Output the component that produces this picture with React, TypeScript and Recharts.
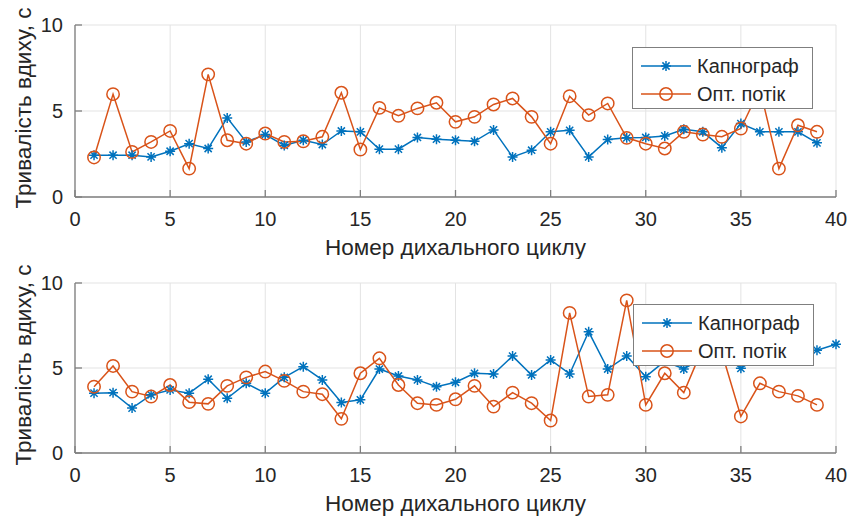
import React from 'react';
import { LineChart, Line, XAxis, YAxis, CartesianGrid, Legend } from 'recharts';

// ---- data ----
const xTicks = [0, 5, 10, 15, 20, 25, 30, 35, 40];
const yTicks = [0, 5, 10];
const seriesNames = { kap: 'Капнограф', opt: 'Опт. потік' };
const xLabelText = 'Номер дихального циклу';
const yLabelText = 'Тривалість вдиху, с';

const kapTop = [2.43, 2.43, 2.43, 2.33, 2.66, 3.1, 2.82, 4.6, 3.2, 3.63, 3.0, 3.3, 3.05, 3.84, 3.79, 2.78, 2.78, 3.46, 3.36, 3.3,
  3.24, 3.9, 2.33, 2.72, 3.79, 3.88, 2.33, 3.34, 3.44, 3.46, 3.55, 3.94, 3.79, 2.87, 4.27, 3.79, 3.79, 3.79, 3.15];
const optTop = [2.3, 5.98, 2.62, 3.2, 3.84, 1.65, 7.13, 3.3, 3.1, 3.69, 3.2, 3.24, 3.5, 6.06, 2.76, 5.18, 4.72, 5.15, 5.48, 4.37,
  4.66, 5.38, 5.73, 4.66, 3.1, 5.86, 4.76, 5.44, 3.44, 3.1, 2.82, 3.79, 3.63, 3.5, 3.98, 6.3, 1.65, 4.17, 3.79];

const kapBottom = [3.52, 3.55, 2.64, 3.42, 3.71, 3.52, 4.34, 3.22, 4.1, 3.52, 4.45, 5.08, 4.3, 2.97, 3.13, 4.94, 4.53, 4.3, 3.9, 4.16,
  4.69, 4.65, 5.7, 4.59, 5.47, 4.65, 7.13, 4.94, 5.7, 4.49, 5.4, 4.94, 5.6, 5.8, 4.98, 5.7, 5.9, 6.0, 6.05, 6.4];
const optBottom = [3.9, 5.12, 3.61, 3.32, 4.0, 2.99, 2.89, 3.95, 4.45, 4.79, 4.24, 3.61, 3.46, 2.01, 4.69, 5.57, 4.0, 2.93, 2.83, 3.16,
  3.95, 2.73, 3.55, 2.93, 1.91, 8.24, 3.32, 3.42, 8.98, 2.83, 4.69, 3.55, 6.2, 5.9, 2.15, 4.1, 3.61, 3.36, 2.83];

// ---- styles ----
const BLUE = '#0072BD';
const ORANGE = '#D95319';
const FONT = '"Liberation Sans", Arial, Helvetica, sans-serif';
const TEXT = '#262626';
const AXIS = '#7f7f7f';
const GRID = '#e3e3e3';

function buildRows(kap: number[], opt: number[]) {
  const n = Math.max(kap.length, opt.length);
  return Array.from({ length: n }, (_, i) => ({
    n: i + 1,
    kap: i < kap.length ? kap[i] : null,
    opt: i < opt.length ? opt[i] : null,
  }));
}

function starPath(cx: number, cy: number) {
  const r = 5;
  const d = 3.6;
  return `M${cx - r},${cy}H${cx + r}M${cx},${cy - r}V${cy + r}M${cx - d},${cy - d}L${cx + d},${cy + d}M${cx - d},${cy + d}L${cx + d},${cy - d}`;
}

const StarDot = (props: any) => {
  const { cx, cy, index } = props;
  if (cx == null || cy == null || props.value == null) return <g key={`s-${index}`} />;
  return <path key={`s-${index}`} d={starPath(cx, cy)} stroke={BLUE} strokeWidth={1.5} fill="none" />;
};

const CircleDot = (props: any) => {
  const { cx, cy, index } = props;
  if (cx == null || cy == null || props.value == null) return <g key={`c-${index}`} />;
  return <circle key={`c-${index}`} cx={cx} cy={cy} r={6.2} stroke={ORANGE} strokeWidth={1.5} fill="none" />;
};

const YLabel = (props: any) => {
  const vb = props.viewBox || { x: 0, y: 0, width: 0, height: 0 };
  const cx = 23.5;
  const cy = vb.y + vb.height / 2 - 3;
  return (
    <text x={cx} y={cy} dy="0.355em" textAnchor="middle" transform={`rotate(-90 ${cx} ${cy})`}
      fill={TEXT} fontSize={22.5} fontFamily={FONT}>{yLabelText}</text>
  );
};

const XLabel = (props: any) => {
  const vb = props.viewBox || { x: 0, y: 0, width: 0, height: 0 };
  const cx = vb.x + vb.width / 2;
  const cy = vb.y + 50.5;
  return (
    <text x={cx} y={cy} dy="0.355em" textAnchor="middle" fill={TEXT} fontSize={22.5} fontFamily={FONT}>{xLabelText}</text>
  );
};

const LegendBox = (props: any) => {
  const payload = (props.payload || []) as any[];
  return (
    <div style={{ position: 'relative', boxSizing: 'border-box', width: 181, height: 62, border: `1px solid ${AXIS}`, background: '#fff', fontFamily: FONT, fontSize: 20, color: TEXT }}>
      {payload.map((entry, i) => {
        const isKap = entry.dataKey === 'kap';
        const color = isKap ? BLUE : ORANGE;
        return (
          <div key={String(entry.dataKey)} style={{ position: 'absolute', left: 0, top: 4 + i * 28, height: 28, display: 'flex', alignItems: 'center', whiteSpace: 'nowrap' }}>
            <svg width={64} height={28} style={{ display: 'block' }}>
              <line x1={8} x2={58} y1={14} y2={14} stroke={color} strokeWidth={1.5} />
              {isKap ? (
                <path d={starPath(33, 14)} stroke={BLUE} strokeWidth={1.5} fill="none" />
              ) : (
                <circle cx={33} cy={14} r={6.2} stroke={ORANGE} strokeWidth={1.5} fill="none" />
              )}
            </svg>
            <span style={{ lineHeight: '28px' }}>{entry.value}</span>
          </div>
        );
      })}
    </div>
  );
};

type PanelProps = { kap: number[]; opt: number[]; height: number; xAxisHeight: number; legendLeft: number; legendTop: number };

const Panel = ({ kap, opt, height, xAxisHeight, legendLeft, legendTop }: PanelProps) => {
  const rows = buildRows(kap, opt);
  const tickStyle = { fill: TEXT, fontSize: 20, fontFamily: FONT };
  return (
    <LineChart width={849} height={height} data={rows} margin={{ top: 25, right: 13, left: 0, bottom: 0 }}>
      <CartesianGrid stroke={GRID} strokeWidth={1} />
      <XAxis dataKey="n" type="number" domain={[0, 40]} ticks={xTicks} interval={0} height={xAxisHeight}
        axisLine={{ stroke: AXIS, strokeWidth: 1.3 }} tickLine={{ stroke: AXIS, strokeWidth: 1.3 }}
        tickSize={-7} tickMargin={22} tick={tickStyle} label={<XLabel />} />
      <XAxis xAxisId="top" orientation="top" dataKey="n" type="number" domain={[0, 40]} ticks={xTicks} interval={0} height={0}
        axisLine={{ stroke: AXIS, strokeWidth: 1.3 }} tickLine={{ stroke: AXIS, strokeWidth: 1.3 }}
        tickSize={-7} tick={false} />
      <YAxis type="number" domain={[0, 10]} ticks={yTicks} interval={0} width={75}
        axisLine={{ stroke: AXIS, strokeWidth: 1.3 }} tickLine={{ stroke: AXIS, strokeWidth: 1.3 }}
        tickSize={-7} tickMargin={19} tick={tickStyle} label={<YLabel />} />
      <YAxis yAxisId="right" orientation="right" type="number" domain={[0, 10]} ticks={yTicks} interval={0} width={0}
        axisLine={{ stroke: AXIS, strokeWidth: 1.3 }} tickLine={{ stroke: AXIS, strokeWidth: 1.3 }}
        tickSize={-7} tick={false} />
      <Line dataKey="kap" name={seriesNames.kap} stroke={BLUE} strokeWidth={1.5} dot={StarDot} activeDot={false}
        isAnimationActive={false} connectNulls={false} type="linear" />
      <Line dataKey="opt" name={seriesNames.opt} stroke={ORANGE} strokeWidth={1.5} dot={CircleDot} activeDot={false}
        isAnimationActive={false} connectNulls={false} type="linear" />
      <Legend layout="vertical" align="center" verticalAlign="middle" content={<LegendBox />}
        wrapperStyle={{ left: legendLeft, top: legendTop, width: 181, height: 62 }} />
    </LineChart>
  );
};

export default function App() {
  return (
    <div style={{ position: 'absolute', left: 0, top: 0, width: 849, height: 519, background: '#fff', overflow: 'hidden' }}>
      <div style={{ position: 'absolute', left: 0, top: 0 }}>
        <Panel kap={kapTop} opt={optTop} height={259} xAxisHeight={62} legendLeft={632} legendTop={47} />
      </div>
      <div style={{ position: 'absolute', left: 0, top: 258 }}>
        <Panel kap={kapBottom} opt={optBottom} height={261} xAxisHeight={66} legendLeft={633} legendTop={46} />
      </div>
    </div>
  );
}
